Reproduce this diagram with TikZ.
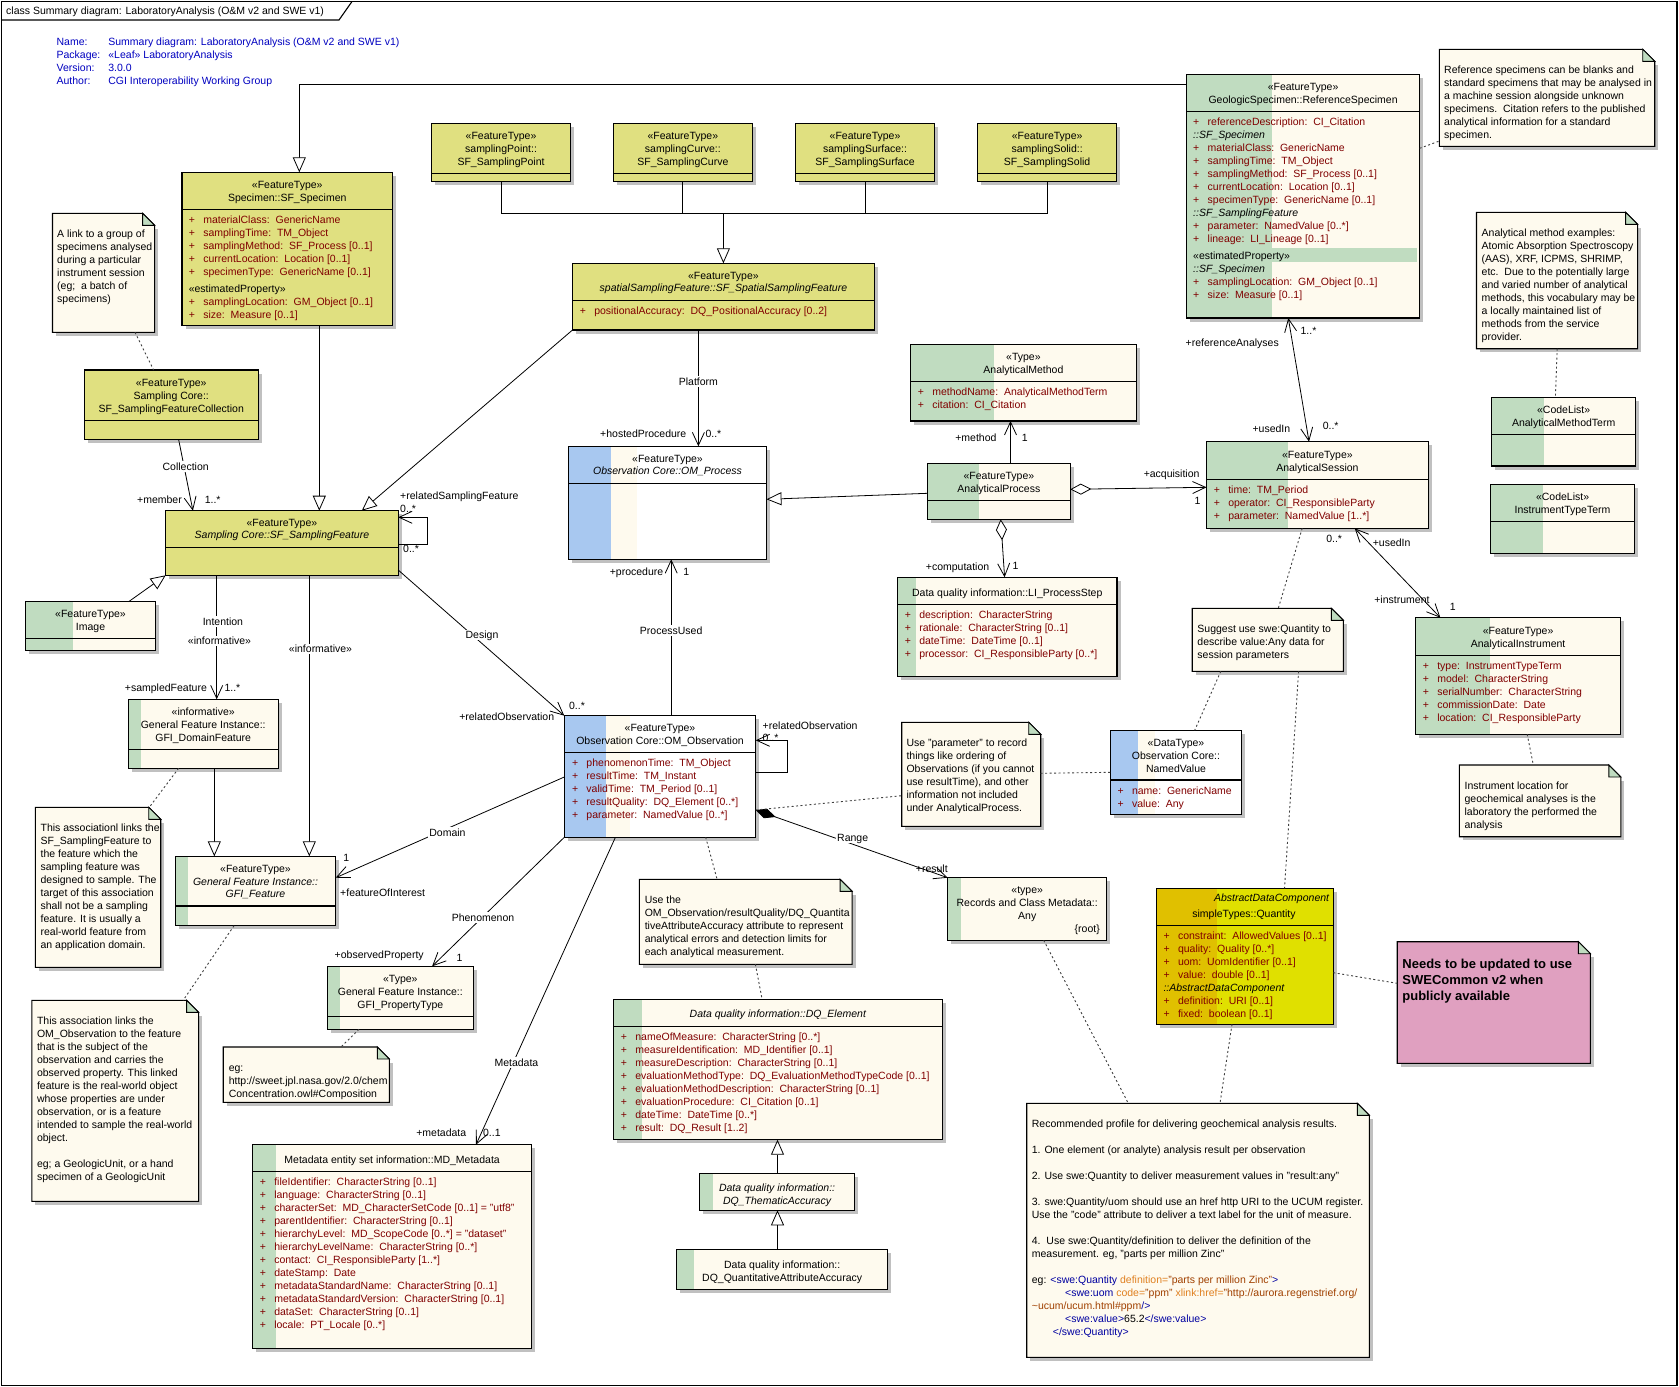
\documentclass[tikz,border=0pt]{standalone}
\usepackage{fontspec}
\setmainfont{Liberation Sans}
\usetikzlibrary{arrows.meta,positioning}

\definecolor{umlolive}{RGB}{224,224,128}
\definecolor{umlcream}{RGB}{254,250,238}
\definecolor{umlgreen}{RGB}{192,220,192}
\definecolor{umlblue}{RGB}{168,200,240}
\definecolor{umlgold}{RGB}{224,192,0}
\definecolor{umlyellow}{RGB}{224,224,0}
\definecolor{umlpink}{RGB}{224,160,192}
\definecolor{umlshadow}{RGB}{192,192,192}
\definecolor{attrred}{RGB}{128,0,0}
\definecolor{hdrblue}{RGB}{0,0,192}
\definecolor{xmlblue}{RGB}{0,0,160}
\definecolor{xmlattr}{RGB}{224,128,32}
\definecolor{xmlval}{RGB}{160,64,0}

\newcommand{\uf}{\fontsize{10.5}{13}\selectfont}
% one attribute line, and one inherited-from line
\newcommand{\ua}[1]{\strut\makebox[14.5pt][l]{+}#1}
\newcommand{\ui}[1]{\strut{\color{black}\itshape #1}}

\tikzset{
  lbl/.style={font=\uf, inner sep=0pt, text height=8pt, text depth=0.5pt},
  aname/.style={lbl, fill=white, inner sep=1pt},
  hdr/.style={font=\uf, inner sep=0pt, align=center, anchor=north, yshift=5.35pt},
  txt/.style={font=\uf, inner sep=0pt, align=left, anchor=north west, yshift=5.35pt},
  attrs/.style={txt, text=attrred},
  classbox/.style={inner sep=0pt, outer sep=0pt, anchor=north west},
  notebox/.style={inner sep=0pt, outer sep=0pt, anchor=north west},
  stripe/.style 2 args={path picture={\fill[#1] (path picture bounding box.north west) rectangle ([xshift=#2pt]path picture bounding box.south west);}},
  omstripe/.style 2 args={path picture={%
    \fill[umlcream] (path picture bounding box.north west) rectangle ([xshift=#2pt]path picture bounding box.south west);
    \fill[umlblue] (path picture bounding box.north west) rectangle ([xshift=#1pt]path picture bounding box.south west);}},
  conn/.style={line width=0.8pt},
  assoc/.style={conn, -{Straight Barb[length=13pt,width=12pt]}},
  biassoc/.style={conn, {Straight Barb[length=13pt,width=12pt]}-{Straight Barb[length=13pt,width=12pt]}},
  gen/.style={conn, -{Triangle[length=15pt,width=13pt,fill=white]}},
  agg/.style={conn, {Diamond[length=21pt,width=11pt,fill=white]}-{Straight Barb[length=13pt,width=12pt]}},
  comp/.style={conn, {Diamond[length=21pt,width=10pt]}-{Straight Barb[length=13pt,width=12pt]}},
  dotline/.style={line width=0.9pt, black!75, dash pattern=on 2pt off 2.5pt},
}

% class box: [style] name x y w h
\newcommand{\umlclass}[6][fill=umlcream]{%
  \fill[umlshadow] (#3+3.5,#4+3.5) rectangle ++(#5,#6);
  \node[classbox, #1, minimum width=#5pt, minimum height=#6pt] (#2) at (#3,#4) {};
  \draw[line width=1.1pt] (#2.north west) rectangle (#2.south east);
}
\newcommand{\umldiv}[2]{\draw[line width=1.1pt] (#1.west |- 0,#2) -- (#1.east |- 0,#2);}
% note: [fill] name x y w h
\newcommand{\umlnote}[6][umlcream]{%
  \node[notebox, minimum width=#5pt, minimum height=#6pt] (#2) at (#3,#4) {};
  \fill[umlshadow] (#3+3.5,#4+15.5) rectangle (#3+#5+3.5,#4+#6+3.5);
  \draw[line width=1.1pt, fill=#1] (#2.north west) -- ([xshift=-12pt]#2.north east) -- ([yshift=-12pt]#2.north east) -- (#2.south east) -- (#2.south west) -- cycle;
  \draw[line width=0.9pt, fill=umlgreen] ([xshift=-12pt]#2.north east) -- ([xshift=-12pt,yshift=-12pt]#2.north east) -- ([yshift=-12pt]#2.north east) -- cycle;
}

\begin{document}
\begin{tikzpicture}[x=1pt, y=-1pt]
\useasboundingbox (0,0) rectangle (1679,1387);
\fill[white] (0,0) rectangle (1679,1387);

% frame and title tab
\draw[line width=1.1pt] (1.5,1.5) rectangle (1677,1385.5);
\draw[line width=1.1pt] (1.5,20) -- (339,20) -- (352,1.5);
\node[lbl, anchor=west] (title) at (6,10.7) {class Summary diagram: LaboratoryAnalysis (O\&M v2 and SWE v1)};
\node[txt, text=hdrblue] (info-keys) at (56.4,41.7) {\strut Name:\\Package:\\Version:\\Author:};
\node[txt, text=hdrblue] (info-vals) at (108.2,41.7) {\strut Summary diagram: LaboratoryAnalysis (O\&M v2 and SWE v1)\\«Leaf» LaboratoryAnalysis\\3.0.0\\CGI Interoperability Working Group};

% ---- classes
\umlclass[fill=umlolive]{specimen}{182}{172.3}{210.5}{153}
\umldiv{specimen}{209.7}
\node[hdr] (specimen-hd) at (287.25,184.7) {\strut«FeatureType»\\Specimen::SF\_Specimen};
\node[attrs] (specimen-at) at (188.6,219.7) {\ua{materialClass:\ \ GenericName}\\
  \ua{samplingTime:\ \ TM\_Object}\\
  \ua{samplingMethod:\ \ SF\_Process [0..1]}\\
  \ua{currentLocation:\ \ Location [0..1]}\\
  \ua{specimenType:\ \ GenericName [0..1]}\\[4pt]
  \strut{\color{black}«estimatedProperty»}\\
  \ua{samplingLocation:\ \ GM\_Object [0..1]}\\
  \ua{size:\ \ Measure [0..1]}};

\umlclass[fill=umlolive]{point}{431.4}{123.3}{139.3}{58}
\umldiv{point}{173.3}
\node[hdr] (point-hd) at (501.05,135.7) {\strut«FeatureType»\\samplingPoint::\\SF\_SamplingPoint};
\umlclass[fill=umlolive]{curve}{613.2}{123.3}{139.3}{58}
\umldiv{curve}{173.3}
\node[hdr] (curve-hd) at (682.85,135.7) {\strut«FeatureType»\\samplingCurve::\\SF\_SamplingCurve};
\umlclass[fill=umlolive]{surface}{795.4}{123.3}{139.3}{58}
\umldiv{surface}{173.3}
\node[hdr] (surface-hd) at (865.05,135.7) {\strut«FeatureType»\\samplingSurface::\\SF\_SamplingSurface};
\umlclass[fill=umlolive]{solid}{977.5}{123.3}{139.3}{58}
\umldiv{solid}{173.3}
\node[hdr] (solid-hd) at (1047.15,135.7) {\strut«FeatureType»\\samplingSolid::\\SF\_SamplingSolid};

\umlclass[fill=umlolive]{spatial}{572.5}{263.3}{301.8}{66.7}
\umldiv{spatial}{300.7}
\node[hdr] (spatial-hd) at (723.4,276) {\strut«FeatureType»\\[-1.3pt]{\itshape spatialSamplingFeature::SF\_SpatialSamplingFeature}};
\node[attrs] (spatial-at) at (579.6,310.7) {\ua{positionalAccuracy:\ \ DQ\_PositionalAccuracy [0..2]}};

\umlclass[fill=umlolive]{coll}{84.3}{370}{173.9}{69.3}
\umldiv{coll}{420.7}
\node[hdr] (coll-hd) at (171.25,382.7) {\strut«FeatureType»\\Sampling Core::\\SF\_SamplingFeatureCollection};

\umlclass[fill=umlolive]{sf}{165.7}{510.7}{232.5}{64.6}
\umldiv{sf}{547.3}
\node[hdr] (sf-hd) at (281.95,522.7) {\strut«FeatureType»\\[-1pt]{\itshape Sampling Core::SF\_SamplingFeature}};

\umlclass[fill=umlcream, stripe={umlgreen}{47.5}]{image}{25.4}{601.7}{130.3}{48.6}
\umldiv{image}{638.3}
\node[hdr] (image-hd) at (90.5,614) {\strut«FeatureType»\\Image};

\umlclass[fill=umlcream, stripe={umlgreen}{12.9}]{domain}{128.2}{699.3}{150}{69}
\umldiv{domain}{749.3}
\node[hdr] (domain-hd) at (203.2,711.7) {\strut«informative»\\General Feature Instance::\\GFI\_DomainFeature};

\umlclass[fill=umlcream, stripe={umlgreen}{13}]{gfi}{175.4}{856.3}{160.3}{69.4}
\umldiv{gfi}{906}
\node[hdr] (gfi-hd) at (255.5,868.7) {\strut«FeatureType»\\[-0.6pt]{\itshape General Feature Instance::}\\[-0.6pt]{\itshape GFI\_Feature}};

\umlclass[fill=umlcream, stripe={umlgreen}{12.5}]{proptype}{327.5}{966.3}{145.7}{63}
\umldiv{proptype}{1016.7}
\node[hdr] (proptype-hd) at (400.35,979) {\strut«Type»\\General Feature Instance::\\GFI\_PropertyType};

\umlclass[fill=umlcream, stripe={umlgreen}{23.6}]{mdmeta}{252.5}{1144.7}{279.3}{203.6}
\umldiv{mdmeta}{1171.7}
\node[hdr] (mdmeta-hd) at (392.1,1159.7) {\strut Metadata entity set information::MD\_Metadata};
\node[attrs] (mdmeta-at) at (259.6,1181.7) {\ua{fileIdentifier:\ \ CharacterString [0..1]}\\
  \ua{language:\ \ CharacterString [0..1]}\\
  \ua{characterSet:\ \ MD\_CharacterSetCode [0..1] = "utf8"}\\
  \ua{parentIdentifier:\ \ CharacterString [0..1]}\\
  \ua{hierarchyLevel:\ \ MD\_ScopeCode [0..*] = "dataset"}\\
  \ua{hierarchyLevelName:\ \ CharacterString [0..*]}\\
  \ua{contact:\ \ CI\_ResponsibleParty [1..*]}\\
  \ua{dateStamp:\ \ Date}\\
  \ua{metadataStandardName:\ \ CharacterString [0..1]}\\
  \ua{metadataStandardVersion:\ \ CharacterString [0..1]}\\
  \ua{dataSet:\ \ CharacterString [0..1]}\\
  \ua{locale:\ \ PT\_Locale [0..*]}};

\umlclass[fill=white, omstripe={42.7}{68.4}]{process}{568.5}{446.3}{198}{113}
\umldiv{process}{483.7}
\node[hdr] (process-hd) at (667.5,458.7) {\strut«FeatureType»\\[-1pt]{\itshape Observation Core::OM\_Process}};

\umlclass[fill=white, omstripe={41.4}{65.3}]{obs}{564.3}{715.7}{191.4}{121.6}
\umldiv{obs}{752.7}
\node[hdr] (obs-hd) at (660,727.7) {\strut«FeatureType»\\Observation Core::OM\_Observation};
\node[attrs] (obs-at) at (571.8,762.7) {\ua{phenomenonTime:\ \ TM\_Object}\\
  \ua{resultTime:\ \ TM\_Instant}\\
  \ua{validTime:\ \ TM\_Period [0..1]}\\
  \ua{resultQuality:\ \ DQ\_Element [0..*]}\\
  \ua{parameter:\ \ NamedValue [0..*]}};

\umlclass[fill=umlcream, stripe={umlgreen}{83.5}]{method}{910.5}{344.3}{225.8}{76.7}
\umldiv{method}{381.7}
\node[hdr] (method-hd) at (1023.4,357) {\strut«Type»\\AnalyticalMethod};
\node[attrs] (method-at) at (917.6,392) {\ua{methodName:\ \ AnalyticalMethodTerm}\\\ua{citation:\ \ CI\_Citation}};

\umlclass[fill=umlcream, stripe={umlgreen}{51.4}]{aprocess}{927.5}{463.7}{142.8}{55.6}
\umldiv{aprocess}{500.3}
\node[hdr] (aprocess-hd) at (998.9,475.7) {\strut«FeatureType»\\AnalyticalProcess};

\umlclass[fill=umlcream, stripe={umlgreen}{18.6}]{procstep}{897.5}{577.3}{219.5}{99}
\umldiv{procstep}{604.3}
\node[hdr] (procstep-hd) at (1007.25,592.7) {\strut Data quality information::LI\_ProcessStep};
\node[attrs] (procstep-at) at (904.6,614.7) {\ua{description:\ \ CharacterString}\\
  \ua{rationale:\ \ CharacterString [0..1]}\\
  \ua{dateTime:\ \ DateTime [0..1]}\\
  \ua{processor:\ \ CI\_ResponsibleParty [0..*]}};

\umlclass[fill=umlcream, stripe={umlgreen}{85.4}]{refspec}{1186.5}{74.3}{233.2}{243.7}
\umldiv{refspec}{111.3}
\fill[umlgreen] (1190.4,248.3) rectangle (1416.5,261.7);
\node[hdr] (refspec-hd) at (1303.1,87) {\strut«FeatureType»\\GeologicSpecimen::ReferenceSpecimen};
\node[attrs] (refspec-at) at (1193,121.7) {\ua{referenceDescription:\ \ CI\_Citation}\\
  \ui{::SF\_Specimen}\\
  \ua{materialClass:\ \ GenericName}\\
  \ua{samplingTime:\ \ TM\_Object}\\
  \ua{samplingMethod:\ \ SF\_Process [0..1]}\\
  \ua{currentLocation:\ \ Location [0..1]}\\
  \ua{specimenType:\ \ GenericName [0..1]}\\
  \ui{::SF\_SamplingFeature}\\
  \ua{parameter:\ \ NamedValue [0..*]}\\
  \ua{lineage:\ \ LI\_Lineage [0..1]}\\[4pt]
  \strut{\color{black}«estimatedProperty»}\\
  \ui{::SF\_Specimen}\\
  \ua{samplingLocation:\ \ GM\_Object [0..1]}\\
  \ua{size:\ \ Measure [0..1]}};

\umlclass[fill=umlcream, stripe={umlgreen}{81}]{session}{1206.5}{441.7}{221.8}{86.6}
\umldiv{session}{479.3}
\node[hdr] (session-hd) at (1317.4,454.7) {\strut«FeatureType»\\AnalyticalSession};
\node[attrs] (session-at) at (1213.6,489.7) {\ua{time:\ \ TM\_Period}\\
  \ua{operator:\ \ CI\_ResponsibleParty}\\
  \ua{parameter:\ \ NamedValue [1..*]}};

\umlclass[fill=umlcream, stripe={umlgreen}{74}]{instrument}{1415.8}{617.7}{204.6}{116.6}
\umldiv{instrument}{655.7}
\node[hdr] (instrument-hd) at (1518.1,631) {\strut«FeatureType»\\AnalyticalInstrument};
\node[attrs] (instrument-at) at (1422.6,665.7) {\ua{type:\ \ InstrumentTypeTerm}\\
  \ua{model:\ \ CharacterString}\\
  \ua{serialNumber:\ \ CharacterString}\\
  \ua{commissionDate:\ \ Date}\\
  \ua{location:\ \ CI\_ResponsibleParty}};

\umlclass[fill=umlcream, stripe={umlgreen}{52.5}]{methodterm}{1491.5}{397.3}{144.3}{68.7}
\umldiv{methodterm}{434.7}
\node[hdr] (methodterm-hd) at (1563.65,409.7) {\strut«CodeList»\\AnalyticalMethodTerm};

\umlclass[fill=umlcream, stripe={umlgreen}{52.5}]{typeterm}{1490.4}{484.3}{144.3}{69}
\umldiv{typeterm}{521.3}
\node[hdr] (typeterm-hd) at (1562.55,496.7) {\strut«CodeList»\\InstrumentTypeTerm};

\umlclass[fill=white, omstripe={27.4}{44.7}]{namedvalue}{1110.3}{730.3}{131.4}{84}
\umldiv{namedvalue}{780}
\node[hdr] (namedvalue-hd) at (1176,742.7) {\strut«DataType»\\Observation Core::\\NamedValue};
\node[attrs] (namedvalue-at) at (1117.3,790.7) {\ua{name:\ \ GenericName}\\\ua{value:\ \ Any}};

\umlclass[fill=umlcream, stripe={umlgreen}{13.3}]{anyrec}{947.7}{877.7}{159}{62.6}
\node[hdr] (anyrec-hd) at (1027.2,890) {\strut«type»\\Records and Class Metadata::\\Any};
\node[lbl, anchor=east] (anyrec-root) at (1100,928.7) {\{root\}};

\umlclass[fill=umlyellow, stripe={umlgold}{60.4}]{quantity}{1156.3}{888.3}{177}{136}
\umldiv{quantity}{925.3}
\node[lbl, anchor=east, font=\uf\itshape] (quantity-abs) at (1329.3,897.7) {AbstractDataComponent};
\node[lbl] (quantity-hd) at (1244,913.7) {simpleTypes::Quantity};
\node[attrs] (quantity-at) at (1163.3,935.7) {\ua{constraint:\ \ AllowedValues [0..1]}\\
  \ua{quality:\ \ Quality [0..*]}\\
  \ua{uom:\ \ UomIdentifier [0..1]}\\
  \ua{value:\ \ double [0..1]}\\
  \ui{::AbstractDataComponent}\\
  \ua{definition:\ \ URI [0..1]}\\
  \ua{fixed:\ \ boolean [0..1]}};

\umlclass[fill=umlcream, stripe={umlgreen}{28.6}]{dqelem}{613.2}{999.3}{329.3}{140.4}
\umldiv{dqelem}{1026.7}
\node[hdr] (dqelem-hd) at (777.85,1013.7) {\strut{\itshape Data quality information::DQ\_Element}};
\node[attrs] (dqelem-at) at (620.7,1036.7) {\ua{nameOfMeasure:\ \ CharacterString [0..*]}\\
  \ua{measureIdentification:\ \ MD\_Identifier [0..1]}\\
  \ua{measureDescription:\ \ CharacterString [0..1]}\\
  \ua{evaluationMethodType:\ \ DQ\_EvaluationMethodTypeCode [0..1]}\\
  \ua{evaluationMethodDescription:\ \ CharacterString [0..1]}\\
  \ua{evaluationProcedure:\ \ CI\_Citation [0..1]}\\
  \ua{dateTime:\ \ DateTime [0..*]}\\
  \ua{result:\ \ DQ\_Result [1..2]}};

\umlclass[fill=umlcream, stripe={umlgreen}{13.2}]{thematic}{699.6}{1173.7}{155}{36.6}
\node[hdr] (thematic-hd) at (777.1,1187.7) {\strut{\itshape Data quality information::}\\{\itshape DQ\_ThematicAccuracy}};

\umlclass[fill=umlcream, stripe={umlgreen}{17.1}]{quantacc}{676.8}{1249.3}{210.7}{40}
\node[hdr] (quantacc-hd) at (782.15,1264.7) {\strut Data quality information::\\DQ\_QuantitativeAttributeAccuracy};

% ---- notes
\umlnote{n1}{52.5}{213.3}{102.1}{119}
\node[txt] (n1-tx) at (57,233.3) {\strut A link to a group of\\specimens analysed\\during a particular\\instrument session\\(eg;\ \ a batch of\\specimens)};
\umlnote{n2}{35.4}{807.3}{125.3}{160}
\node[txt] (n2-tx) at (40.4,827.7) {\strut This associationl links the\\SF\_SamplingFeature to\\the feature which the\\sampling feature was\\designed to sample. The\\target of this association\\shall not be a sampling\\feature. It is usually a\\real-world feature from\\an application domain.};
\umlnote{n3}{31.8}{1000.3}{166.8}{201}
\node[txt] (n3-tx) at (36.8,1020.7) {\strut This association links the\\OM\_Observation to the feature\\that is the subject of the\\observation and carries the\\observed property. This linked\\feature is the real-world object\\whose properties are under\\observation, or is a feature\\intended to sample the real-world\\object.\\[13pt]eg; a GeologicUnit, or a hand\\specimen of a GeologicUnit};
\umlnote{n4}{223.2}{1047}{166.1}{55.3}
\node[txt] (n4-tx) at (228.6,1067.7) {\strut eg:\\http://sweet.jpl.nasa.gov/2.0/chem\\Concentration.owl\#Composition};
\umlnote{n5}{639.3}{879.3}{212.8}{85}
\node[txt] (n5-tx) at (644.6,899.3) {\strut Use the\\OM\_Observation/resultQuality/DQ\_Quantita\\tiveAttributeAccuracy attribute to represent\\analytical errors and detection limits for\\each analytical measurement.};
\umlnote{n6}{901.7}{722.3}{139}{104}
\node[txt] (n6-tx) at (906.3,742.7) {\strut Use "parameter" to record\\things like ordering of\\Observations (if you cannot\\use resultTime), and other\\information not included\\under AnalyticalProcess.};
\umlnote{n7}{1192.2}{608.3}{151.1}{63}
\node[txt] (n7-tx) at (1197.2,628.7) {\strut Suggest use swe:Quantity to\\describe value:Any data for\\session parameters};
\umlnote{n8}{1439.4}{49.3}{215.3}{97}
\node[txt] (n8-tx) at (1444,69.7) {\strut Reference specimens can be blanks and\\standard specimens that may be analysed in\\a machine session alongside unknown\\specimens.\ \ Citation refers to the published\\analytical information for a standard\\specimen.};
\umlnote{n9}{1476.5}{212.3}{161.1}{136.4}
\node[txt] (n9-tx) at (1481.5,232.7) {\strut Analytical method examples:\\Atomic Absorption Spectroscopy\\(AAS), XRF, ICPMS, SHRIMP,\\etc.\ \ Due to the potentially large\\and varied number of analytical\\methods, this vocabulary may be\\a locally maintained list of\\methods from the service\\provider.};
\umlnote{n10}{1459.4}{765}{161.4}{71.7}
\node[txt] (n10-tx) at (1464.4,785.7) {\strut Instrument location for\\geochemical analyses is the\\laboratory the performed the\\analysis};
\umlnote{n11}{1026.7}{1103.3}{342.6}{254}
\node[txt] (n11-tx) at (1031.7,1123.7) {\strut Recommended profile for delivering geochemical analysis results.\\[13pt]
  1. One element (or analyte) analysis result per observation\\[13pt]
  2. Use swe:Quantity to deliver measurement values in "result:any"\\[13pt]
  3. swe:Quantity/uom should use an href http URI to the UCUM register.\\
  Use the "code" attribute to deliver a text label for the unit of measure.\\[13pt]
  4.\ \ Use swe:Quantity/definition to deliver the definition of the\\
  measurement. eg, "parts per million Zinc"\\[13pt]
  eg: \textcolor{xmlblue}{<swe:Quantity} \textcolor{xmlattr}{definition=}\textcolor{xmlval}{"parts per million Zinc"}\textcolor{xmlblue}{>}\\
  \hspace*{33.3pt}\textcolor{xmlblue}{<swe:uom} \textcolor{xmlattr}{code=}\textcolor{xmlval}{"ppm"} \textcolor{xmlattr}{xlink:href=}\textcolor{xmlval}{"http://aurora.regenstrief.org/}\\
  \textcolor{xmlval}{\textasciitilde ucum/ucum.html\#ppm}\textcolor{xmlblue}{/>}\\
  \hspace*{33.3pt}\textcolor{xmlblue}{<swe:value>}65.2\textcolor{xmlblue}{</swe:value>}\\
  \hspace*{21pt}\textcolor{xmlblue}{</swe:Quantity>}};
\umlnote[umlpink]{n12}{1397.2}{941.7}{193.2}{121.6}
\node[txt, font=\fontsize{13}{16}\selectfont\bfseries, yshift=1.2pt] (n12-tx) at (1402.2,963.3) {\strut Needs to be updated to use\\SWECommon v2 when\\publicly available};

% ---- generalizations
\draw[gen] (refspec.west |- 0,84.3) -| (specimen.north -| 299.3,0);
\draw[conn] (point.south) |- (solid.south |- 0,213.3) -- (solid.south);
\draw[conn] (curve.south) -- (curve.south |- 0,213.3);
\draw[conn] (surface.south) -- (surface.south |- 0,213.3);
\draw[gen] (spatial.north |- 0,213.3) -- (spatial.north);
\draw[gen] (specimen.south -| 319.3,0) -- (sf.north -| 319.3,0);
\draw[gen] (spatial.south west) -- (sf.north -| 361.8,0);
\draw[gen] (image.north -| 128.6,0) -- (sf.south west);
\draw[gen] (sf.south -| 309.3,0) -- (gfi.north -| 309.3,0);
\draw[gen] (domain.south -| 214.3,0) -- (gfi.north -| 214.3,0);
\draw[gen] (aprocess.west |- 0,493.3) -- (process.east |- 0,499.3);
\draw[gen] (thematic.north -| 777.5,0) -- (dqelem.south -| 777.5,0);
\draw[gen] (quantacc.north -| 777.5,0) -- (thematic.south -| 777.5,0);

% ---- associations
\draw[assoc] (coll.south -| 178.6,0) -- (sf.north -| 192.9,0);
\draw[assoc] (sf.south -| 216.7,0) -- (domain.north -| 216.7,0);
\draw[assoc] (sf.east |- 0,544) -| ++(29.3,-26.7) -- (sf.east |- 0,517.3);
\draw[assoc] (sf.east |- 0,570) -- (obs.north west);
\draw[assoc] (spatial.south -| 698.4,0) -- (process.north -| 698.4,0);
\draw[assoc] (obs.north -| 671.2,0) -- (process.south -| 671.2,0);
\draw[assoc] (aprocess.north -| 1010.5,0) -- (method.south -| 1010.5,0);
\draw[agg] (aprocess.south -| 1000.7,0) -- (procstep.north -| 1004.6,0);
\draw[agg] (aprocess.east |- 0,489.3) -- (session.west |- 0,487.3);
\draw[biassoc] (refspec.south -| 1288.3,0) -- (session.north -| 1309,0);
\draw[biassoc] (session.south -| 1354.7,0) -- (instrument.north -| 1440.4,0);
\draw[assoc] (obs.west |- 0,777) -- (gfi.east |- 0,877.7);
\draw[assoc] (obs.south west) -- (proptype.north -| 432.1,0);
\draw[assoc] (obs.south -| 615.4,0) -- (mdmeta.north -| 476,0);
\draw[comp] (obs.east |- 0,810) -- (anyrec.north west);
\draw[assoc] (obs.east |- 0,772.3) -| ++(31.3,-32) -- (obs.east |- 0,740.3);

% ---- note links
\draw[dotline] (n1.south -| 135,0) -- (coll.north -| 153.6,0);
\draw[dotline] (refspec.east |- 0,148.3) -- (n8.west |- 0,141);
\draw[dotline] (n9.south -| 1557.2,0) -- (methodterm.north -| 1555.4,0);
\draw[dotline] (instrument.south -| 1527.2,0) -- (n10.north -| 1533.3,0);
\draw[dotline] (session.south -| 1302.2,0) -- (n7.north -| 1278.3,0);
\draw[dotline] (n7.south -| 1220.8,0) -- (namedvalue.north -| 1194.7,0);
\draw[dotline] (n7.south -| 1298.6,0) -- (quantity.north -| 1284.5,0);
\draw[dotline] (n6.east |- 0,773.3) -- (namedvalue.west |- 0,772.3);
\draw[dotline] (obs.east |- 0,810) -- (n6.west |- 0,795.7);
\draw[dotline] (obs.south -| 705.7,0) -- (n5.north -| 717.1,0);
\draw[dotline] (n5.south -| 755.4,0) -- (dqelem.north -| 762.1,0);
\draw[dotline] (anyrec.south -| 1043.7,0) -- (n11.north -| 1128.3,0);
\draw[dotline] (quantity.south -| 1232,0) -- (n11.north -| 1220,0);
\draw[dotline] (quantity.east |- 0,972.7) -- (n12.west |- 0,983.3);
\draw[dotline] (proptype.south -| 359,0) -- (n4.north -| 341,0);
\draw[dotline] (domain.south -| 178.6,0) -- (n2.north -| 149.3,0);
\draw[dotline] (gfi.south -| 234,0) -- (n3.north -| 183.2,0);

% ---- association names
\node[aname] (lb-coll) at (185.7,466.7) {Collection};
\node[aname] (lb-intent) at (222.9,621.7) {Intention};
\node[aname] (lb-inf1) at (219.5,641) {«informative»};
\node[aname] (lb-inf2) at (320.5,649) {«informative»};
\node[aname] (lb-design) at (482,635) {Design};
\node[aname] (lb-platform) at (698.4,381.7) {Platform};
\node[aname] (lb-procused) at (671.2,630.7) {ProcessUsed};
\node[aname] (lb-domain) at (447.5,832.7) {Domain};
\node[aname] (lb-phen) at (483,917.7) {Phenomenon};
\node[aname] (lb-meta) at (516.4,1062.7) {Metadata};
\node[aname] (lb-range) at (852.7,837.7) {Range};

% ---- role names and multiplicities
\node[lbl, anchor=east] (r-member) at (182,499.7) {+member};
\node[lbl, anchor=west] (m-member) at (204.6,499.7) {1..*};
\node[lbl, anchor=west] (r-relsf) at (400,495.7) {+relatedSamplingFeature};
\node[lbl, anchor=west] (m-relsf1) at (400,508.7) {0..*};
\node[lbl, anchor=west] (m-relsf2) at (403,548.7) {0..*};
\node[lbl, anchor=east] (r-sampled) at (207.1,687.7) {+sampledFeature};
\node[lbl, anchor=west] (m-sampled) at (224.3,687.7) {1..*};
\node[lbl, anchor=east] (r-relobs) at (554.3,716.7) {+relatedObservation};
\node[lbl, anchor=west] (m-relobs) at (568.9,705.7) {0..*};
\node[lbl] (m-foi) at (346.4,857.7) {1};
\node[lbl, anchor=west] (r-foi) at (340,892.7) {+featureOfInterest};
\node[lbl, anchor=east] (r-obsprop) at (423.9,954.7) {+observedProperty};
\node[lbl] (m-obsprop) at (459.6,957.3) {1};
\node[lbl, anchor=east] (r-meta) at (466.4,1132.7) {+metadata};
\node[lbl, anchor=west] (m-meta) at (482.9,1132.7) {0..1};
\node[lbl, anchor=east] (r-hosted) at (686.5,433.7) {+hostedProcedure};
\node[lbl, anchor=west] (m-hosted) at (705.3,433.7) {0..*};
\node[lbl, anchor=east] (r-proc) at (663.4,571.7) {+procedure};
\node[lbl, anchor=west] (m-proc) at (683.1,571.7) {1};
\node[lbl, anchor=west] (r-relobs2) at (762.5,725.7) {+relatedObservation};
\node[lbl, anchor=west] (m-relobs2) at (762.5,738) {0..*};
\node[lbl, anchor=east] (r-method) at (996.7,437.7) {+method};
\node[lbl, anchor=west] (m-method) at (1021.6,437.7) {1};
\node[lbl, anchor=east] (r-comp) at (989.4,566.7) {+computation};
\node[lbl, anchor=west] (m-comp) at (1012.5,566) {1};
\node[lbl, anchor=east] (r-acq) at (1199.7,473.7) {+acquisition};
\node[lbl] (m-acq) at (1197.6,500.7) {1};
\node[lbl, anchor=east] (r-refan) at (1279,342.7) {+referenceAnalyses};
\node[lbl, anchor=west] (m-refan) at (1300.4,331) {1..*};
\node[lbl, anchor=east] (r-usedin1) at (1290.4,428.7) {+usedIn};
\node[lbl, anchor=west] (m-usedin1) at (1322.6,425.3) {0..*};
\node[lbl, anchor=west] (m-usedin2) at (1326.1,538.7) {0..*};
\node[lbl, anchor=west] (r-usedin2) at (1372.6,542.7) {+usedIn};
\node[lbl, anchor=east] (r-instr) at (1429.7,599.7) {+instrument};
\node[lbl, anchor=west] (m-instr) at (1449.7,606.7) {1};
\node[lbl, anchor=west] (r-result) at (915.7,868.7) {+result};
\end{tikzpicture}
\end{document}
